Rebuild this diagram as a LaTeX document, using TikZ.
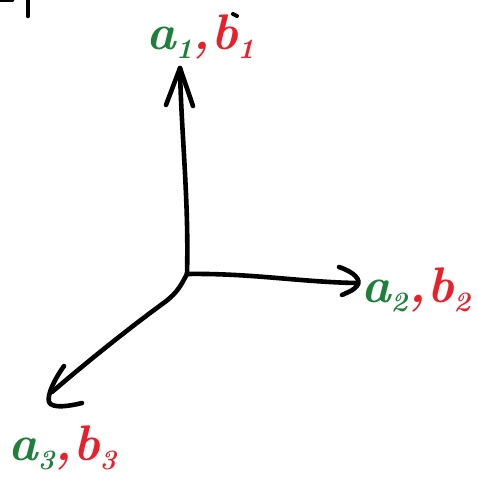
\documentclass[tikz,border=0pt]{standalone}
\usepackage{fontspec}
\definecolor{hgreen}{RGB}{30,128,58}
\definecolor{hred}{RGB}{232,32,42}
\newcommand{\hsub}[2][-9pt]{\raisebox{#1}{\fontsize{28}{28}\selectfont\bfseries\itshape #2}}
\begin{document}
\begin{tikzpicture}[x=1pt,y=-1pt,
  pen/.style={line width=4.6pt,line cap=round,line join=round,black},
  lbl/.style={inner sep=0pt,anchor=base west,font=\fontsize{50}{50}\selectfont\bfseries\itshape}]
\useasboundingbox (0,0) rectangle (478,489);
% key points
\coordinate (O) at (187,274);
\coordinate (T1) at (180,68);
\coordinate (T2) at (356,283);
\coordinate (T3) at (52,392);
% axes
\draw[pen] (O) .. controls (189,200) and (181,130) .. (T1);
\draw[pen] (166,105) -- (T1) -- (193,106);
\draw[pen] (O) .. controls (250,273) and (300,282) .. (T2);
\draw[pen] (339,267) .. controls (354,272) and (362,280) .. (357,286) .. controls (353,290) .. (342,295);
\draw[pen] (O) .. controls (181,285) and (178,292) .. (165,302) .. controls (140,320) and (95,355) .. (T3);
\draw[pen] (64,366) .. controls (54,380) and (47,395) .. (49,402) .. controls (52,409) and (70,406) .. (82,403);
% fragments at the top edge
\draw[pen] (28,-2) -- (28,16);
\draw[pen] (0,0) -- (12,0);
\draw[line width=4pt,line cap=round] (233,14) -- (237,16);
% labels
\node[lbl] (L1) at (146,50) {\textcolor{hgreen}{a\hsub{1}}\textcolor{hred}{,\kern1pt b\hsub{1}}};
\node[lbl] (L2) at (361,302) {\textcolor{hgreen}{a\hsub{2}}\textcolor{hred}{\kern1pt,\kern1pt b\hsub{2}}};
\node[lbl] (L3) at (8,460) {\textcolor{hgreen}{a\hsub{3}}\textcolor{hred}{,\kern1pt b\hsub{3}}};
\end{tikzpicture}
\end{document}
